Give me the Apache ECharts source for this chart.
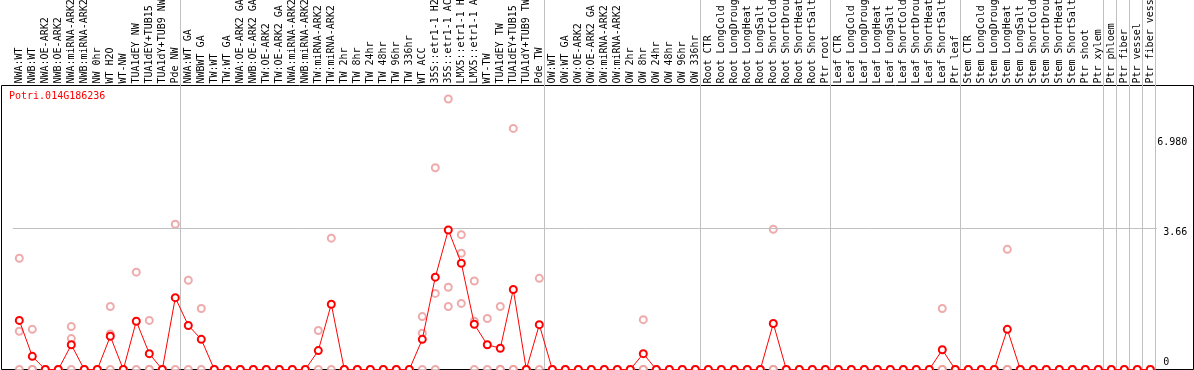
<!DOCTYPE html>
<html><head><meta charset="utf-8">
<script src="https://cdn.jsdelivr.net/npm/echarts@6/dist/echarts.min.js"></script>
<style>html,body{margin:0;padding:0;background:#fff}#c{width:1194px;height:370px}</style>
</head><body><div id="c"></div>
<script>
const geneId = 'Potri.014G186236';
const categories = [
'NWA:WT','NWB:WT','NWA:OE-ARK2','NWB:OE-ARK2','NWA:miRNA-ARK2','NWB:miRNA-ARK2','NW 0hr','WT H2O','WT-NW','TUA1dEY NW',
'TUA1dEY+TUB15 NW','TUA1dY+TUB9 NW','Pde NW','NWA:WT GA','NWBWT GA','TW:WT','TW:WT GA','NWA:OE-ARK2 GA','NWB:OE-ARK2 GA','TW:OE-ARK2',
'TW:OE-ARK2 GA','NWA:miRNA-ARK2','NWB:miRNA-ARK2','TW:miRNA-ARK2','TW:miRNA-ARK2','TW 2hr','TW 8hr','TW 24hr','TW 48hr','TW 96hr',
'TW 336hr','WT ACC','35S::etr1-1 H2O','35S::etr1-1 ACC','LMX5::etr1-1 H2O','LMX5::etr1-1 ACC','WT-TW','TUA1dEY TW','TUA1dEY+TUB15 TW','TUA1dY+TUB9 TW',
'Pde TW','OW:WT','OW:WT GA','OW:OE-ARK2','OW:OE-ARK2 GA','OW:miRNA-ARK2','OW:miRNA-ARK2','OW 2hr','OW 8hr','OW 24hr',
'OW 48hr','OW 96hr','OW 336hr','Root CTR','Root LongCold','Root LongDrought','Root LongHeat','Root LongSalt','Root ShortCold','Root ShortDrought',
'Root ShortHeat','Root ShortSalt','Ptr root','Leaf CTR','Leaf LongCold','Leaf LongDrought','Leaf LongHeat','Leaf LongSalt','Leaf ShortCold','Leaf ShortDrought',
'Leaf ShortHeat','Leaf ShortSalt','Ptr leaf','Stem CTR','Stem LongCold','Stem LongDrought','Stem LongHeat','Stem LongSalt','Stem ShortCold','Stem ShortDrought',
'Stem ShortHeat','Stem ShortSalt','Ptr shoot','Ptr xylem','Ptr phloem','Ptr fiber','Ptr vessel','Ptr fiber vessel'
];
const meanValues = [
1.27,0.34,0,0,0.64,0,0,0.86,0,1.25,
0.41,0,1.86,1.14,0.78,0,0,0,0,0,
0,0,0,0.49,1.69,0,0,0,0,0,
0,0.78,2.39,3.61,2.75,1.17,0.64,0.55,2.07,0,
1.16,0,0,0,0,0,0,0,0.41,0,
0,0,0,0,0,0,0,0,1.19,0,
0,0,0,0,0,0,0,0,0,0,
0,0.51,0,0,0,0,1.04,0,0,0,
0,0,0,0,0,0,0,0
];
const rep1 = [
2.88,1.04,0,0,1.11,0,0,1.63,0,2.52,
1.27,0,3.76,2.31,1.58,0,0,0,0,0,
0,0,0,1.01,3.40,0,0,0,0,0,
0,1.37,5.22,7.00,3.49,2.29,1.32,1.63,6.24,0,
2.36,0,0,0,0,0,0,0,1.29,0,
0,0,0,0,0,0,0,0,3.63,0,
0,0,0,0,0,0,0,0,0,0,
0,1.58,0,0,0,0,3.11,0,0,0,
0,0,0,0,0,0,0,0
];
const rep2 = [
0.99,0,0,0,0.80,0,0,0.92,0,0,
0,0,0,0,0,0,0,0,0,0,
0,0,0,0,0,0,0,0,0,0,
0,0.94,1.97,2.13,3.01,1.25,0,0,0,0,
0,0,0,0,0,0,0,0,0,0,
0,0,0,0,0,0,0,0,0,0,
0,0,0,0,0,0,0,0,0,0,
0,0,0,0,0,0,0,0,0,0,
0,0,0,0,0,0,0,0
];
const rep3 = [
0,0,0,0,0,0,0,0,0,null,
0,0,null,null,null,0,0,0,0,0,
0,0,0,null,null,0,0,0,0,0,
0,0,0,1.63,1.71,0,null,0,0,0,
null,0,0,0,0,0,0,0,0,0,
0,0,0,0,0,0,0,0,0,0,
0,0,0,0,0,0,0,0,0,0,
0,0,0,0,0,0,0,0,0,0,
0,0,0,0,0,0,0,0
];
const yTickValues = [0, 3.66, 6.98];
const yTickLabels = ['0', '3.66', '6.980'];
const gridLineValue = 3.66;
const groupStarts = [0, 13, 41, 53, 63, 73, 84, 85, 86, 87, 88];

const FONT = 'DejaVu Sans Mono';
const L = 12.8, R = 37.2;
const chart = echarts.init(document.getElementById('c'), null, {renderer: 'canvas'});
const repSeries = [rep1, rep2, rep3].map(r => ({
  type: 'scatter', xAxisIndex: 0, yAxisIndex: 0, data: r,
  symbol: 'emptyCircle', symbolSize: 7,
  itemStyle: {color: '#eb9696', borderColor: '#eb9696', borderWidth: 1},
  silent: true, z: 3
}));
const option = {
  animation: false,
  title: {text: geneId, left: 9, top: 91, padding: 0,
    textStyle: {color: '#ff0000', fontSize: 10, fontFamily: FONT, fontWeight: 'normal'}},
  grid: [
    {left: L, right: R, top: 85.5, bottom: 0.5, outerBoundsMode: 'none'},
    {left: 1.5, right: 0.5, top: 85.5, bottom: 0.5, show: true, borderColor: '#000', borderWidth: 1, backgroundColor: 'transparent', outerBoundsMode: 'none'},
    {left: L, right: R, top: 0, bottom: 0.5, outerBoundsMode: 'none'}
  ],
  xAxis: [
    {type: 'category', gridIndex: 0, position: 'top', data: categories, boundaryGap: true,
      axisLine: {show: false}, axisTick: {show: false}, splitLine: {show: false},
      axisLabel: {rotate: 90, interval: 0, margin: 2, fontSize: 10, fontFamily: FONT, color: '#000', hideOverlap: false}},
    {type: 'value', gridIndex: 1, show: false, min: 0, max: 1},
    {type: 'value', gridIndex: 2, show: false, min: -0.5, max: categories.length - 0.5}
  ],
  yAxis: [
    {type: 'value', gridIndex: 0, position: 'right', min: 0, max: 7.35,
      splitLine: {show: false}, axisLine: {show: false}, axisTick: {show: false},
      axisLabel: {customValues: yTickValues, margin: 30.5, align: 'right', fontSize: 10, fontFamily: FONT, color: '#000',
        formatter: function (v) {
          let k = 0;
          yTickValues.forEach((t, i) => { if (Math.abs(t - v) < Math.abs(yTickValues[k] - v)) k = i; });
          return '{t' + k + '|' + yTickLabels[k] + '}';
        },
        rich: {
          t0: {fontSize: 10, fontFamily: FONT, color: '#000', padding: [0, 18, 14, 0]},
          t1: {fontSize: 10, fontFamily: FONT, color: '#000', padding: [9, 0, 0, 0]},
          t2: {fontSize: 10, fontFamily: FONT, color: '#000', padding: [86, 0, 0, 0]}
        }}},
    {type: 'value', gridIndex: 1, show: false, min: 0, max: 1},
    {type: 'value', gridIndex: 2, show: false, min: 0, max: 1}
  ],
  series: [
    {type: 'line', xAxisIndex: 2, yAxisIndex: 2, data: [], silent: true, z: 1,
      markLine: {silent: true, symbol: 'none', label: {show: false}, animation: false,
        lineStyle: {color: '#c0c0c0', type: 'solid', width: 1},
        data: groupStarts.map(i => ({xAxis: i - 0.654}))}},
    ...repSeries,
    {type: 'line', xAxisIndex: 0, yAxisIndex: 0, data: meanValues,
      symbol: 'emptyCircle', symbolSize: 7, showAllSymbol: true, silent: true, z: 5,
      lineStyle: {color: '#ff0000', width: 1},
      itemStyle: {color: '#ff0000', borderColor: '#ff0000', borderWidth: 1.5},
      markLine: {silent: true, symbol: 'none', label: {show: false}, animation: false,
        lineStyle: {color: '#c0c0c0', type: 'solid', width: 1},
        data: [{yAxis: gridLineValue}]}}
  ]
};
chart.setOption(option);
</script>
</body></html>
